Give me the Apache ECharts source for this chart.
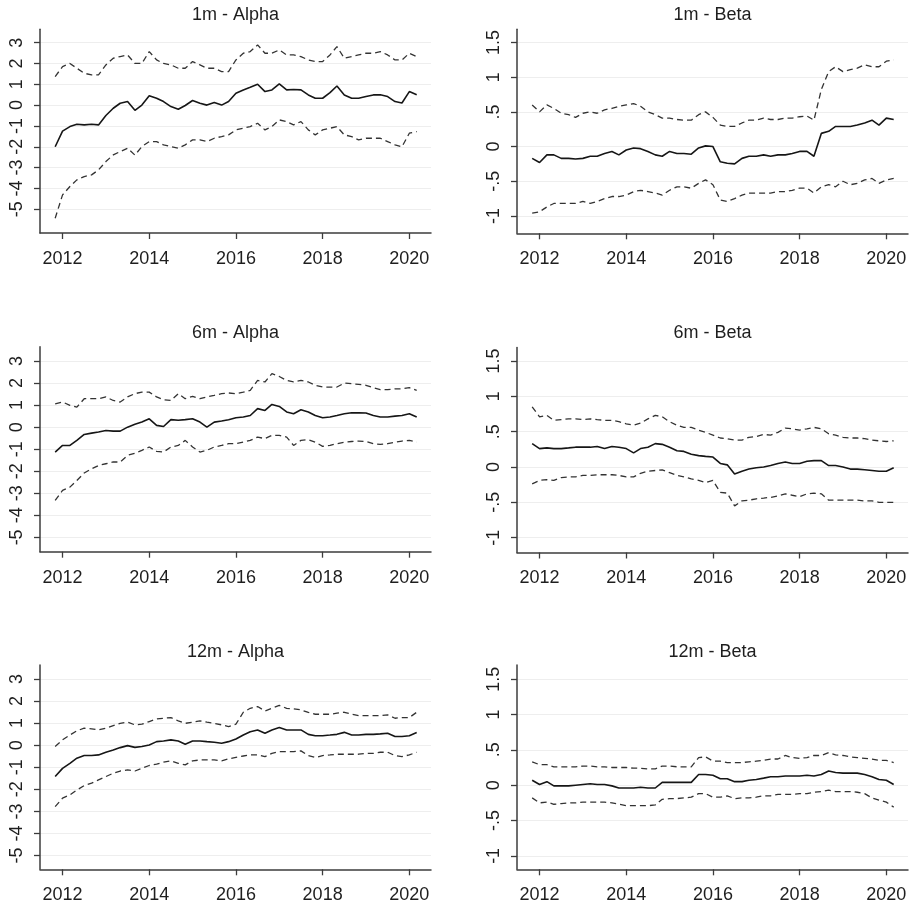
<!DOCTYPE html>
<html><head><meta charset="utf-8">
<script src="https://cdn.jsdelivr.net/npm/echarts@6/dist/echarts.min.js"></script>
<style>html,body{margin:0;padding:0;background:#fff}#c{width:910px;height:908px}</style>
</head><body><div id="c"></div>
<script>
const dates = [2011.83, 2012.00, 2012.17, 2012.33, 2012.50, 2012.67, 2012.83, 2013.00, 2013.17, 2013.33, 2013.50, 2013.67, 2013.83, 2014.00, 2014.17, 2014.33, 2014.50, 2014.67, 2014.83, 2015.00, 2015.17, 2015.33, 2015.50, 2015.67, 2015.83, 2016.00, 2016.17, 2016.33, 2016.50, 2016.67, 2016.83, 2017.00, 2017.17, 2017.33, 2017.50, 2017.67, 2017.83, 2018.00, 2018.17, 2018.33, 2018.50, 2018.67, 2018.83, 2019.00, 2019.17, 2019.33, 2019.50, 2019.67, 2019.83, 2020.00, 2020.17];
const xTicks = [2012, 2014, 2016, 2018, 2020];
const alphaTicks = [-5, -4, -3, -2, -1, 0, 1, 2, 3];
const betaTicks = [-1, -0.5, 0, 0.5, 1, 1.5];
const titles = ['1m - Alpha', '1m - Beta', '6m - Alpha', '6m - Beta', '12m - Alpha', '12m - Beta'];

// 1m Alpha
const a1Est = [-2.0, -1.25, -1.03, -0.92, -0.95, -0.92, -0.95, -0.5, -0.15, 0.09, 0.17, -0.25, 0.0, 0.45, 0.33, 0.17, -0.07, -0.2, -0.02, 0.22, 0.09, 0.0, 0.12, 0.0, 0.17, 0.57, 0.73, 0.86, 1.0, 0.65, 0.73, 1.02, 0.73, 0.75, 0.73, 0.49, 0.33, 0.33, 0.6, 0.92, 0.49, 0.33, 0.33, 0.41, 0.49, 0.5, 0.41, 0.17, 0.1, 0.65, 0.5];
const a1Hi = [1.37, 1.85, 2.0, 1.77, 1.53, 1.45, 1.45, 1.93, 2.25, 2.33, 2.41, 2.0, 2.0, 2.57, 2.17, 2.0, 1.93, 1.77, 1.77, 2.09, 1.93, 1.77, 1.77, 1.61, 1.61, 2.17, 2.49, 2.57, 2.89, 2.49, 2.49, 2.65, 2.41, 2.41, 2.33, 2.17, 2.09, 2.09, 2.41, 2.81, 2.25, 2.33, 2.41, 2.49, 2.49, 2.57, 2.41, 2.17, 2.17, 2.49, 2.33];
const a1Lo = [-5.43, -4.31, -3.91, -3.59, -3.43, -3.35, -3.11, -2.71, -2.39, -2.23, -2.07, -2.4, -1.99, -1.75, -1.75, -1.91, -1.99, -2.07, -1.91, -1.67, -1.67, -1.75, -1.59, -1.51, -1.43, -1.19, -1.11, -1.03, -0.87, -1.19, -1.03, -0.71, -0.79, -0.95, -0.79, -1.19, -1.43, -1.19, -1.11, -1.03, -1.43, -1.51, -1.67, -1.59, -1.59, -1.59, -1.75, -1.91, -2.0, -1.35, -1.27];
// 1m Beta
const b1Est = [-0.17, -0.23, -0.12, -0.12, -0.17, -0.17, -0.18, -0.17, -0.14, -0.14, -0.1, -0.07, -0.12, -0.05, -0.02, -0.03, -0.07, -0.12, -0.14, -0.07, -0.1, -0.1, -0.11, -0.02, 0.01, 0.0, -0.22, -0.24, -0.25, -0.17, -0.14, -0.14, -0.12, -0.14, -0.12, -0.12, -0.1, -0.07, -0.07, -0.14, 0.19, 0.22, 0.29, 0.29, 0.29, 0.31, 0.34, 0.38, 0.31, 0.41, 0.39];
const b1Hi = [0.6, 0.5, 0.6, 0.55, 0.48, 0.46, 0.42, 0.48, 0.5, 0.48, 0.53, 0.55, 0.58, 0.6, 0.62, 0.58, 0.5, 0.46, 0.41, 0.41, 0.39, 0.38, 0.38, 0.46, 0.5, 0.42, 0.31, 0.29, 0.29, 0.34, 0.38, 0.38, 0.41, 0.39, 0.39, 0.41, 0.41, 0.43, 0.44, 0.38, 0.82, 1.08, 1.15, 1.08, 1.11, 1.13, 1.18, 1.15, 1.15, 1.23, 1.25];
const b1Lo = [-0.96, -0.94, -0.87, -0.82, -0.82, -0.82, -0.82, -0.79, -0.82, -0.79, -0.75, -0.72, -0.72, -0.7, -0.65, -0.63, -0.65, -0.67, -0.7, -0.63, -0.58, -0.58, -0.6, -0.53, -0.48, -0.55, -0.77, -0.79, -0.75, -0.7, -0.67, -0.67, -0.67, -0.67, -0.65, -0.65, -0.63, -0.6, -0.6, -0.67, -0.58, -0.55, -0.58, -0.5, -0.55, -0.53, -0.48, -0.46, -0.53, -0.48, -0.46];
// 6m Alpha
const a6Est = [-1.13, -0.83, -0.83, -0.6, -0.33, -0.27, -0.22, -0.15, -0.18, -0.18, 0.0, 0.13, 0.23, 0.38, 0.08, 0.03, 0.34, 0.31, 0.34, 0.38, 0.23, 0.0, 0.23, 0.28, 0.34, 0.43, 0.46, 0.53, 0.84, 0.76, 1.03, 0.94, 0.69, 0.61, 0.79, 0.69, 0.53, 0.43, 0.46, 0.53, 0.61, 0.65, 0.65, 0.64, 0.53, 0.46, 0.46, 0.5, 0.53, 0.61, 0.46];
const a6Hi = [1.06, 1.14, 0.99, 0.91, 1.29, 1.29, 1.29, 1.37, 1.21, 1.14, 1.37, 1.52, 1.59, 1.59, 1.37, 1.24, 1.21, 1.52, 1.29, 1.4, 1.29, 1.37, 1.44, 1.52, 1.55, 1.52, 1.59, 1.67, 2.12, 2.05, 2.43, 2.3, 2.12, 2.05, 2.12, 2.05, 1.9, 1.82, 1.82, 1.82, 2.0, 1.97, 1.94, 1.9, 1.79, 1.7, 1.7, 1.74, 1.74, 1.79, 1.67];
const a6Lo = [-3.32, -2.87, -2.72, -2.42, -2.08, -1.89, -1.74, -1.66, -1.58, -1.58, -1.28, -1.18, -1.05, -0.9, -1.1, -1.13, -0.9, -0.83, -0.6, -0.9, -1.13, -1.05, -0.9, -0.83, -0.75, -0.75, -0.68, -0.6, -0.45, -0.52, -0.37, -0.37, -0.45, -0.83, -0.6, -0.57, -0.68, -0.87, -0.83, -0.75, -0.68, -0.65, -0.63, -0.65, -0.75, -0.78, -0.75, -0.68, -0.63, -0.6, -0.68];
// 6m Beta
const b6Est = [0.33, 0.26, 0.27, 0.26, 0.26, 0.27, 0.28, 0.28, 0.28, 0.29, 0.26, 0.29, 0.28, 0.26, 0.2, 0.26, 0.28, 0.33, 0.32, 0.28, 0.23, 0.22, 0.18, 0.16, 0.15, 0.14, 0.05, 0.03, -0.1, -0.06, -0.03, -0.01, 0.0, 0.02, 0.05, 0.07, 0.05, 0.05, 0.08, 0.09, 0.09, 0.02, 0.02, 0.0, -0.03, -0.03, -0.04, -0.05, -0.06, -0.06, -0.01];
const b6Hi = [0.85, 0.71, 0.73, 0.66, 0.67, 0.68, 0.68, 0.67, 0.68, 0.67, 0.66, 0.66, 0.64, 0.61, 0.59, 0.62, 0.68, 0.73, 0.71, 0.64, 0.59, 0.56, 0.56, 0.52, 0.49, 0.45, 0.41, 0.4, 0.38, 0.38, 0.42, 0.43, 0.46, 0.45, 0.49, 0.55, 0.54, 0.52, 0.54, 0.56, 0.54, 0.47, 0.45, 0.42, 0.41, 0.41, 0.4, 0.38, 0.37, 0.36, 0.37];
const b6Lo = [-0.24, -0.19, -0.18, -0.19, -0.15, -0.14, -0.14, -0.12, -0.12, -0.11, -0.11, -0.11, -0.12, -0.14, -0.14, -0.09, -0.06, -0.05, -0.04, -0.08, -0.12, -0.14, -0.17, -0.19, -0.22, -0.19, -0.36, -0.37, -0.55, -0.48, -0.47, -0.45, -0.44, -0.43, -0.41, -0.38, -0.4, -0.42, -0.38, -0.37, -0.38, -0.47, -0.47, -0.47, -0.47, -0.47, -0.48, -0.48, -0.5, -0.5, -0.5];
// 12m Alpha
const a12Est = [-1.42, -1.05, -0.82, -0.59, -0.47, -0.47, -0.44, -0.32, -0.22, -0.11, -0.02, -0.1, -0.06, 0.01, 0.16, 0.19, 0.24, 0.19, 0.04, 0.19, 0.19, 0.16, 0.13, 0.09, 0.16, 0.28, 0.46, 0.61, 0.69, 0.54, 0.69, 0.8, 0.69, 0.69, 0.69, 0.49, 0.43, 0.43, 0.46, 0.49, 0.58, 0.46, 0.46, 0.49, 0.49, 0.51, 0.54, 0.39, 0.39, 0.43, 0.57];
const a12Hi = [-0.06, 0.24, 0.46, 0.65, 0.77, 0.74, 0.69, 0.77, 0.89, 0.99, 1.04, 0.92, 0.95, 1.07, 1.19, 1.22, 1.25, 1.1, 0.99, 1.04, 1.1, 1.04, 0.99, 0.92, 0.84, 0.95, 1.49, 1.67, 1.75, 1.55, 1.67, 1.8, 1.67, 1.64, 1.6, 1.48, 1.4, 1.4, 1.4, 1.45, 1.49, 1.4, 1.34, 1.34, 1.34, 1.34, 1.37, 1.22, 1.25, 1.25, 1.49];
const a12Lo = [-2.78, -2.4, -2.25, -2.03, -1.83, -1.72, -1.57, -1.42, -1.27, -1.17, -1.12, -1.17, -1.05, -0.92, -0.86, -0.77, -0.71, -0.82, -0.89, -0.71, -0.67, -0.67, -0.67, -0.71, -0.62, -0.55, -0.49, -0.44, -0.44, -0.52, -0.37, -0.29, -0.29, -0.29, -0.26, -0.47, -0.56, -0.47, -0.44, -0.41, -0.41, -0.41, -0.41, -0.37, -0.37, -0.32, -0.32, -0.47, -0.52, -0.44, -0.32];
// 12m Beta
const b12Est = [0.07, 0.01, 0.05, -0.01, -0.01, -0.01, 0.0, 0.01, 0.02, 0.01, 0.01, -0.01, -0.04, -0.04, -0.04, -0.03, -0.04, -0.04, 0.04, 0.04, 0.04, 0.04, 0.04, 0.15, 0.15, 0.14, 0.09, 0.09, 0.05, 0.05, 0.07, 0.08, 0.1, 0.12, 0.12, 0.13, 0.13, 0.13, 0.14, 0.13, 0.15, 0.2, 0.18, 0.17, 0.17, 0.17, 0.15, 0.12, 0.08, 0.07, 0.01];
const b12Hi = [0.33, 0.29, 0.29, 0.26, 0.26, 0.26, 0.26, 0.27, 0.27, 0.26, 0.26, 0.25, 0.25, 0.25, 0.24, 0.24, 0.23, 0.23, 0.27, 0.27, 0.26, 0.26, 0.26, 0.39, 0.4, 0.34, 0.34, 0.32, 0.32, 0.32, 0.33, 0.34, 0.35, 0.37, 0.37, 0.42, 0.39, 0.38, 0.39, 0.42, 0.42, 0.46, 0.43, 0.42, 0.4, 0.39, 0.38, 0.37, 0.35, 0.35, 0.32];
const b12Lo = [-0.18, -0.25, -0.24, -0.27, -0.26, -0.25, -0.25, -0.24, -0.24, -0.24, -0.24, -0.25, -0.27, -0.29, -0.29, -0.29, -0.29, -0.28, -0.2, -0.19, -0.19, -0.18, -0.17, -0.12, -0.12, -0.17, -0.17, -0.15, -0.19, -0.18, -0.18, -0.17, -0.15, -0.15, -0.13, -0.13, -0.13, -0.12, -0.12, -0.1, -0.09, -0.07, -0.09, -0.09, -0.09, -0.1, -0.12, -0.18, -0.21, -0.24, -0.31];

const panels = [
  {est: a1Est, hi: a1Hi, lo: a1Lo, ticks: alphaTicks, min: -6.14, max: 3.64, left: 40, top: 29.3, h: 203.7, titleTop: 6},
  {est: b1Est, hi: b1Hi, lo: b1Lo, ticks: betaTicks, min: -1.25, max: 1.69, left: 517, top: 29.3, h: 204, titleTop: 6},
  {est: a6Est, hi: a6Hi, lo: a6Lo, ticks: alphaTicks, min: -5.65, max: 3.65, left: 40, top: 346.7, h: 205, titleTop: 324.3},
  {est: b6Est, hi: b6Hi, lo: b6Lo, ticks: betaTicks, min: -1.21, max: 1.69, left: 517, top: 347.5, h: 205, titleTop: 324.3},
  {est: a12Est, hi: a12Hi, lo: a12Lo, ticks: alphaTicks, min: -5.62, max: 3.63, left: 40, top: 665, h: 204.3, titleTop: 642.7},
  {est: b12Est, hi: b12Hi, lo: b12Lo, ticks: betaTicks, min: -1.19, max: 1.70, left: 517, top: 665, h: 204.3, titleTop: 642.7}
];
const W = 391;
const font = 'Liberation Sans, Arial, sans-serif';
const fmt = v => { let s = String(v); if (s.startsWith('0.')) s = s.slice(1); if (s.startsWith('-0.')) s = '-' + s.slice(2); return s; };

const option = {animation: false, backgroundColor: '#fff', title: [], grid: [], xAxis: [], yAxis: [], series: []};
panels.forEach((p, k) => {
  option.title.push({text: titles[k], left: p.left + W / 2, top: p.titleTop, textAlign: 'center', padding: 0,
    textStyle: {fontSize: 18, fontWeight: 'normal', color: '#1e1e1e', fontFamily: font}});
  option.grid.push({left: p.left, top: p.top, width: W, height: p.h, containLabel: false});
  option.xAxis.push({type: 'value', gridIndex: k, min: 2011.48, max: 2020.5,
    axisLine: {show: true, onZero: false, lineStyle: {color: '#3c3c3c', width: 1.5}},
    axisTick: {show: true, length: 6, customValues: xTicks, lineStyle: {color: '#3c3c3c', width: 1.3}},
    axisLabel: {customValues: xTicks, margin: 17, fontSize: 18, color: '#1e1e1e', fontFamily: font, formatter: v => String(v)},
    splitLine: {show: false}});
  option.yAxis.push({type: 'value', gridIndex: k, min: p.min, max: p.max,
    axisLine: {show: true, lineStyle: {color: '#3c3c3c', width: 1.5}},
    axisTick: {show: true, length: 6, customValues: p.ticks, lineStyle: {color: '#3c3c3c', width: 1.3}},
    axisLabel: {customValues: p.ticks, rotate: 90, margin: 14, fontSize: 18, color: '#1e1e1e', fontFamily: font, formatter: fmt},
    splitLine: {show: true, lineStyle: {color: '#eeeeee', width: 1}}});
  const mk = (vals, dashed) => ({type: 'line', xAxisIndex: k, yAxisIndex: k, symbol: 'none', silent: true,
    data: dates.map((d, i) => [d, vals[i]]),
    lineStyle: dashed ? {color: '#333', width: 1.3, type: [6, 4]} : {color: '#161616', width: 1.6}});
  option.series.push(mk(p.hi, true), mk(p.lo, true), mk(p.est, false));
});
const chart = echarts.init(document.getElementById('c'), null, {renderer: 'canvas'});
chart.setOption(option);
</script></body></html>
